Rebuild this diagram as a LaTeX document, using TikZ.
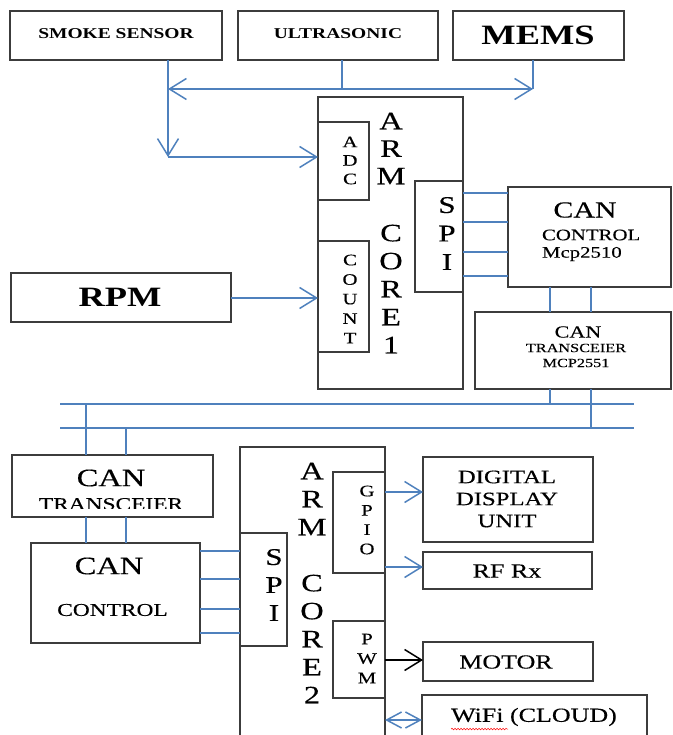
\documentclass[tikz,border=0pt]{standalone}
\usepackage{fontspec}
\setmainfont{Liberation Serif}[FakeStretch=1.3, UprightFeatures={FakeBold=0.3}]
\usetikzlibrary{arrows.meta,decorations.pathmorphing}
\definecolor{lineblue}{RGB}{79,129,189}
\definecolor{boxgray}{RGB}{60,60,60}
\newcommand{\fsz}[2]{\fontsize{#1}{#2}\selectfont}
\begin{document}
\begin{tikzpicture}[x=1pt,y=-1pt,
  box/.style={draw=boxgray, line width=1.1pt, inner sep=0pt, outer sep=0pt, rectangle},
  txt/.style={inner sep=0pt, outer sep=0pt, text=black},
  bl/.style={draw=lineblue, line width=1.5pt},
  barb/.style={-{Straight Barb[length=17pt,width=21pt]}}
]
\useasboundingbox (0,0) rectangle (672,735);
\clip (0,0) rectangle (672,735);

% ---------- boxes ----------
\node[box, minimum width=212pt, minimum height=49pt] (smoke) at (116,35.5) {};
\node[box, minimum width=200pt, minimum height=49pt] (ultra) at (338,35.5) {};
\node[box, minimum width=171pt, minimum height=49pt] (mems) at (538.5,35.5) {};
\node[box, minimum width=145pt, minimum height=292pt] (core1) at (390.5,243) {};
\node[box, minimum width=51pt, minimum height=78pt] (adc) at (343.5,161) {};
\node[box, minimum width=51pt, minimum height=111pt] (count) at (343.5,296.5) {};
\node[box, minimum width=48pt, minimum height=111pt] (spi1) at (439,236.5) {};
\node[box, minimum width=220pt, minimum height=49pt] (rpm) at (121,297.5) {};
\node[box, minimum width=163pt, minimum height=100pt] (canctl1) at (589.5,237) {};
\node[box, minimum width=196pt, minimum height=77pt] (cantr1) at (573,350.5) {};
\node[box, minimum width=201pt, minimum height=62pt] (cantr2) at (112.5,486) {};
\node[box, minimum width=169pt, minimum height=100pt] (canctl2) at (115.5,593) {};
\node[box, minimum width=145pt, minimum height=313pt] (core2) at (312.5,603.5) {};
\node[box, minimum width=47pt, minimum height=113pt] (spi2) at (263.5,589.5) {};
\node[box, minimum width=52pt, minimum height=101pt] (gpio) at (359,522.5) {};
\node[box, minimum width=52pt, minimum height=77pt] (pwm) at (359,659.5) {};
\node[box, minimum width=170pt, minimum height=85pt] (display) at (508,499.5) {};
\node[box, minimum width=169pt, minimum height=37pt] (rf) at (507.5,570.5) {};
\node[box, minimum width=170pt, minimum height=39pt] (motor) at (508,661.5) {};
\node[box, minimum width=225pt, minimum height=65pt] (wifi) at (534.5,727.5) {};

% ---------- texts ----------
\node[txt, font=\bfseries\fsz{15}{18}] (tsmoke) at (116,34) {SMOKE SENSOR};
\node[txt, font=\bfseries\fsz{15}{18}] (tultra) at (338,34) {ULTRASONIC};
\node[txt, font=\bfseries\fsz{28}{32}] (tmems) at (538,35) {MEMS};
\node[txt, font=\bfseries\fsz{28}{32}] (trpm) at (120,297) {RPM};

\node[txt, align=center, font=\fsz{25}{27.5}] (tarm1) at (391,148.5) {A\\R\\M};
\node[txt, align=center, font=\fsz{25}{28}] (tcore1) at (391,289) {C\\O\\R\\E\\1};
\node[txt, align=center, font=\fsz{16}{18.5}] (tadc) at (350,160.5) {A\\D\\C};
\node[txt, align=center, font=\fsz{16}{19.5}] (tcount) at (350,299) {C\\O\\U\\N\\T};
\node[txt, align=center, font=\fsz{24}{28.5}] (tspi1) at (447,233.5) {S\\P\\I};

\node[txt, font=\fsz{23}{26}] (tcan1) at (585,210) {CAN};
\node[txt, font=\fsz{16}{18}, anchor=west] (tctl1) at (542,235) {CONTROL};
\node[txt, font=\fsz{16}{18}, anchor=west] (tmcp1) at (542,254) {Mcp2510};

\node[txt, font=\fsz{17}{20}] (tcan2) at (578,332) {CAN};
\node[txt, font=\fsz{12.5}{14}] (ttr1) at (576,348) {TRANSCEIER};
\node[txt, font=\fsz{12.5}{14}] (tmcp2) at (576,363) {MCP2551};

\node[txt, font=\fsz{25}{28}] (tcan3) at (111,478) {CAN};
\begin{scope}
  \clip (12,455) rectangle (213,508.5);
  \node[txt, font=\fsz{18}{20}, anchor=base] (ttr2) at (111,510) {TRANSCEIER};
\end{scope}
\node[txt, font=\fsz{25}{28}] (tcan4) at (109,566) {CAN};
\node[txt, font=\fsz{18}{20}] (tctl2) at (112.5,610) {CONTROL};

\node[txt, align=center, font=\fsz{25}{28}] (tarm2) at (312,499) {A\\R\\M};
\node[txt, align=center, font=\fsz{25}{28}] (tcore2) at (312,639) {C\\O\\R\\E\\2};
\node[txt, align=center, font=\fsz{24}{28}] (tspi2) at (274,585) {S\\P\\I};
\node[txt, align=center, font=\fsz{16}{19.3}] (tgpio) at (367,520) {G\\P\\I\\O};
\node[txt, align=center, font=\fsz{16}{19.5}] (tpwm) at (367,658.5) {P\\W\\M};

\node[txt, align=center, font=\fsz{19}{22}] (tdisp) at (507,499) {DIGITAL\\DISPLAY\\UNIT};
\node[txt, font=\fsz{20}{22}] (trf) at (507,571) {RF Rx};
\node[txt, font=\fsz{20}{22}] (tmotor) at (506,662) {MOTOR};
\node[txt, font=\fsz{20}{22}] (twifi) at (534,717) {WiFi (CLOUD)};
\draw[red, line width=0.5pt, decorate, decoration={snake, amplitude=0.8pt, segment length=3pt}]
  (twifi.south west) ++(0,3) -- ++(57,0);

% ---------- connectors ----------
\coordinate (jL) at (168,89);
\coordinate (jU) at (342,89);
\coordinate (jR) at (533,89);
\coordinate (jD) at (168,157);
\draw[bl,barb] (smoke.south -| jD) -- (jD);
\draw[bl,barb] (jD) -- (adc.west |- jD);
\draw[bl] (ultra.south -| jU) -- (jU);
\draw[bl,barb] (jU) -- (jL);
\draw[bl,barb] (jU) -- (jR);
\draw[bl] (mems.south -| jR) -- (jR);
\draw[bl,barb] (rpm.east |- 0,298) -- (count.west |- 0,298);

\foreach \yy in {193,222,252,276}
  \draw[bl] (spi1.east |- 0,\yy) -- (canctl1.west |- 0,\yy);
\foreach \xx in {550,591}
  \draw[bl] (canctl1.south -| \xx,0) -- (cantr1.north -| \xx,0);

\coordinate (b1l) at (60,404);
\coordinate (b1r) at (634,404);
\coordinate (b2l) at (60,428);
\coordinate (b2r) at (634,428);
\draw[bl] (b1l) -- (b1r);
\draw[bl] (b2l) -- (b2r);
\draw[bl] (cantr1.south -| 550,0) -- (b1l -| 550,0);
\draw[bl] (cantr1.south -| 591,0) -- (b2l -| 591,0);
\draw[bl] (b1l -| 86,0) -- (cantr2.north -| 86,0);
\draw[bl] (b2l -| 126,0) -- (cantr2.north -| 126,0);
\foreach \xx in {86,126}
  \draw[bl] (cantr2.south -| \xx,0) -- (canctl2.north -| \xx,0);
\foreach \yy in {551,579,609,633}
  \draw[bl] (canctl2.east |- 0,\yy) -- (spi2.west |- 0,\yy);

\draw[bl,barb] (gpio.east |- 0,492) -- (display.west |- 0,492);
\draw[bl,barb] (gpio.east |- 0,567) -- (rf.west |- 0,567);
\draw[draw=black, line width=1.5pt, barb] (pwm.east |- 0,660) -- (motor.west |- 0,660);
\draw[bl, {Straight Barb[length=15pt,width=16pt]}-{Straight Barb[length=15pt,width=16pt]}]
  (core2.east |- 0,720) -- (wifi.west |- 0,720);
\end{tikzpicture}
\end{document}
